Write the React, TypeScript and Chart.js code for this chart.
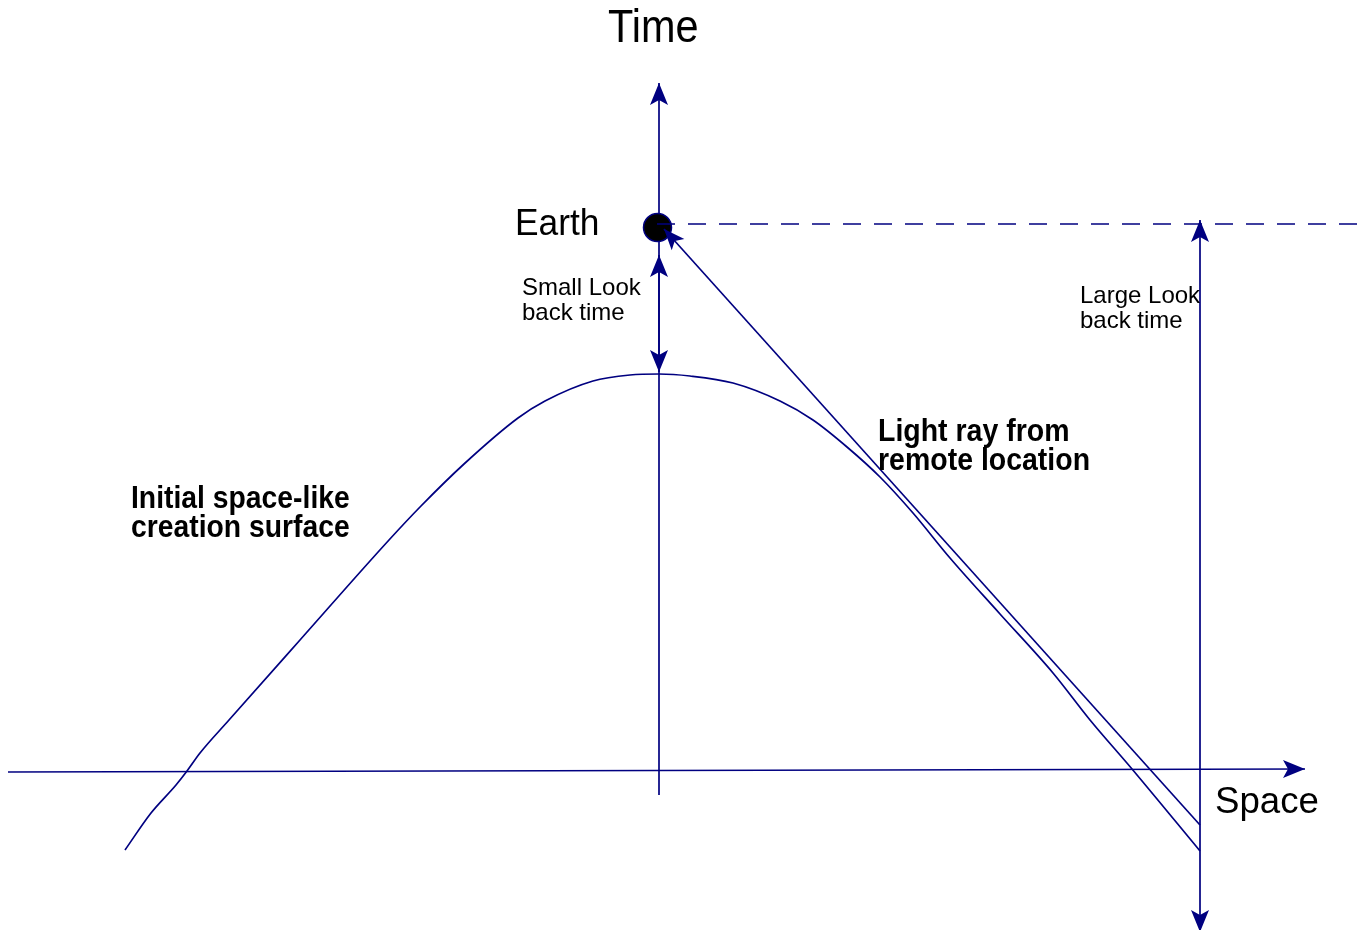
import React, { useEffect, useRef } from "react";
import { Chart, registerables } from "chart.js";

Chart.register(...registerables);

// ---- data (diagram coordinates: x to the right, y downward) ----
const timeAxis = [{ x: 659, y: 795 }, { x: 659, y: 83 }];
const spaceAxis = [{ x: 8, y: 772 }, { x: 1305, y: 769 }];
const creationSurface = [
  { x: 125, y: 850 }, { x: 151, y: 813 }, { x: 176, y: 785 }, { x: 187, y: 771 },
  { x: 200, y: 753 }, { x: 229, y: 720 }, { x: 300, y: 640 }, { x: 389, y: 540 },
  { x: 421, y: 506 }, { x: 464, y: 464 }, { x: 518, y: 418 }, { x: 545, y: 401 },
  { x: 593, y: 381 }, { x: 630, y: 375 }, { x: 659, y: 374 }, { x: 690, y: 376 },
  { x: 733, y: 383 }, { x: 780, y: 401 }, { x: 813, y: 420 }, { x: 847, y: 447 },
  { x: 880, y: 477 }, { x: 913, y: 513 }, { x: 950, y: 558 }, { x: 1000, y: 614 },
  { x: 1053, y: 673 }, { x: 1090, y: 720 }, { x: 1132, y: 769 },
  { x: 1200, y: 851 },
];
const lightRay = [{ x: 1200, y: 825 }, { x: 664, y: 229 }];
const presentLine = [{ x: 657, y: 224 }, { x: 1363, y: 224 }];
const smallLookBack = [{ x: 659, y: 255 }, { x: 659, y: 372 }];
const largeLookBack = [{ x: 1200, y: 220 }, { x: 1200, y: 932 }];
const earth = [{ x: 657.5, y: 227.5 }];

const labelTexts = [
  "Time", "Earth", "Small Look", "back time", "Large Look", "back time",
  "Light ray from", "remote location", "Initial space-like", "creation surface", "Space",
];
const labelAnchors = [
  { x: 608, y: 42 }, { x: 515, y: 235 }, { x: 522, y: 295 }, { x: 522, y: 320 },
  { x: 1080, y: 303 }, { x: 1080, y: 328 }, { x: 878, y: 441 }, { x: 878, y: 470 },
  { x: 131, y: 508 }, { x: 131, y: 537 }, { x: 1215, y: 813 },
];

// ---- styles ----
const NAVY = "rgb(0,0,128)";
const labelStyles = [
  { size: 46, bold: false, sx: 0.9 },
  { size: 37, bold: false, sx: 0.955 },
  { size: 24, bold: false, sx: 1.0 },
  { size: 24, bold: false, sx: 1.0 },
  { size: 24, bold: false, sx: 1.0 },
  { size: 24, bold: false, sx: 1.0 },
  { size: 32, bold: true, sx: 0.89 },
  { size: 32, bold: true, sx: 0.89 },
  { size: 32, bold: true, sx: 0.885 },
  { size: 32, bold: true, sx: 0.885 },
  { size: 37, bold: false, sx: 0.99 },
];

function drawArrow(ctx: CanvasRenderingContext2D, tx: number, ty: number, px: number, py: number, L = 22, W = 9, notch = 5) {
  const dx = tx - px;
  const dy = ty - py;
  const len = Math.hypot(dx, dy) || 1;
  const ux = dx / len;
  const uy = dy / len;
  const nx = -uy;
  const ny = ux;
  ctx.beginPath();
  ctx.moveTo(tx, ty);
  ctx.lineTo(tx - ux * L + nx * W, ty - uy * L + ny * W);
  ctx.lineTo(tx - ux * (L - notch), ty - uy * (L - notch));
  ctx.lineTo(tx - ux * L - nx * W, ty - uy * L - ny * W);
  ctx.closePath();
  ctx.fillStyle = NAVY;
  ctx.fill();
}

const arrowPlugin = {
  id: "arrowheads",
  afterDatasetsDraw(chart: any) {
    const ctx = chart.ctx as CanvasRenderingContext2D;
    const xs = chart.scales.x;
    const ys = chart.scales.y;
    ctx.save();
    chart.data.datasets.forEach((ds: any) => {
      const pts = ds.data.map((p: any) => [xs.getPixelForValue(p.x), ys.getPixelForValue(p.y)]);
      const sz = ds.arrowSize || [22, 9, 5];
      if (ds.arrowEnd && pts.length > 1) {
        const a = pts[pts.length - 1];
        const b = pts[pts.length - 2];
        drawArrow(ctx, a[0], a[1], b[0], b[1], sz[0], sz[1], sz[2]);
      }
      if (ds.arrowStart && pts.length > 1) {
        const a = pts[0];
        const b = pts[1];
        drawArrow(ctx, a[0], a[1], b[0], b[1], sz[0], sz[1], sz[2]);
      }
    });
    ctx.restore();
  },
};

const labelPlugin = {
  id: "diagramLabels",
  afterDraw(chart: any) {
    const ctx = chart.ctx as CanvasRenderingContext2D;
    const xs = chart.scales.x;
    const ys = chart.scales.y;
    ctx.save();
    ctx.fillStyle = "#000";
    ctx.textAlign = "left";
    ctx.textBaseline = "alphabetic";
    labelTexts.forEach((t, i) => {
      const st = labelStyles[i];
      const a = labelAnchors[i];
      ctx.save();
      ctx.translate(xs.getPixelForValue(a.x), ys.getPixelForValue(a.y));
      ctx.scale(st.sx, 1);
      ctx.font = `${st.bold ? "bold " : ""}${st.size}px "Liberation Sans", Arial, sans-serif`;
      ctx.fillText(t, 0, 0);
      ctx.restore();
    });
    ctx.restore();
  },
};

export default function App() {
  const ref = useRef<HTMLCanvasElement | null>(null);
  useEffect(() => {
    if (!ref.current) return;
    const line = (data: any[], extra: any = {}) => ({
      data,
      showLine: true,
      borderColor: NAVY,
      borderWidth: 1.7,
      pointRadius: 0,
      pointHoverRadius: 0,
      fill: false,
      clip: false,
      ...extra,
    });
    const chart = new Chart(ref.current, {
      type: "scatter",
      data: {
        datasets: [
          line(presentLine, { borderDash: [18, 13], order: 1 }),
          line(lightRay, { arrowEnd: true, arrowSize: [21, 8.5, 5], order: 2 }),
          {
            data: earth,
            showLine: false,
            pointRadius: 14,
            pointHoverRadius: 14,
            backgroundColor: "#000",
            borderColor: NAVY,
            borderWidth: 1.5,
            clip: false,
            order: 3,
          },
          line(timeAxis, { arrowEnd: true, order: 4 }),
          line(spaceAxis, { arrowEnd: true, order: 5 }),
          line(creationSurface, { cubicInterpolationMode: "monotone", order: 6 }),
          line(smallLookBack, { arrowStart: true, arrowEnd: true, order: 7 }),
          line(largeLookBack, { arrowStart: true, arrowEnd: true, order: 8 }),
        ] as any,
      },
      options: {
        animation: false,
        responsive: false,
        maintainAspectRatio: false,
        devicePixelRatio: 1,
        layout: { padding: 0, autoPadding: false },
        events: [],
        scales: {
          x: { type: "linear", min: 0, max: 1363, display: false, offset: false },
          y: { type: "linear", min: 0, max: 930, reverse: true, display: false, offset: false },
        },
        plugins: {
          legend: { display: false },
          tooltip: { enabled: false },
          title: { display: false },
        },
      },
      plugins: [arrowPlugin, labelPlugin],
    });
    return () => chart.destroy();
  }, []);
  return (
    <div style={{ position: "absolute", left: 0, top: 0, width: 1363, height: 930, background: "#fff" }}>
      <canvas ref={ref} width={1363} height={930} style={{ display: "block" }} />
    </div>
  );
}
